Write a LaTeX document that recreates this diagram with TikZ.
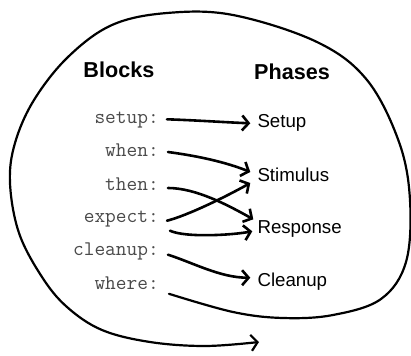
\documentclass[tikz,border=0pt]{standalone}
\usepackage{fontspec}
\setmainfont{Liberation Sans}
\usetikzlibrary{arrows.meta}
\definecolor{codegray}{HTML}{4A4A4A}
\tikzset{
  head/.style={font=\bfseries\fontsize{21.6bp}{24bp}\selectfont, inner sep=0pt, anchor=base west},
  blk/.style={font=\ttfamily\fontsize{20.8bp}{22bp}\selectfont, text=codegray, inner sep=0pt, anchor=base east},
  phase/.style={font=\fontsize{18.7bp}{21bp}\selectfont, inner sep=0pt, anchor=base west},
  conn/.style={line width=2.6bp, line cap=round, -{Straight Barb[length=6.5bp,width=15bp,line width=2.6bp]}},
  loop/.style={line width=2.2bp, line cap=round, -{Straight Barb[length=6.5bp,width=16bp,line width=2.2bp]}}
}
\begin{document}
\begin{tikzpicture}[x=1bp,y=-1bp]
\useasboundingbox (0,0) rectangle (411,356);
\fill[white] (0,0) rectangle (411,356);
\node[head] (blocks) at (83.3,77.5) {Blocks};
\node[head] (phases) at (254,79) {Phases};
\node[blk] (b1) at (159,123.3) {setup:};
\node[blk] (b2) at (159,156) {when:};
\node[blk] (b3) at (159,190) {then:};
\node[blk] (b4) at (159,222.7) {expect:};
\node[blk] (b5) at (159,255.7) {cleanup:};
\node[blk] (b6) at (159,289.3) {where:};
\node[phase] (p1) at (257.3,127.3) {Setup};
\node[phase] (p2) at (257.3,181) {Stimulus};
\node[phase] (p3) at (257.3,233.3) {Response};
\node[phase] (p4) at (257.3,286.7) {Cleanup};
\coordinate (loopend) at (259,342);
\draw[conn] ([shift={(8,-4)}]b1.base east) .. controls +(30,1) and +(-25,-1) .. ([shift={(-7,-4)}]p1.base west);
\draw[conn] ([shift={(9,-4)}]b2.base east) .. controls +(30,4) and +(-25,-10) .. ([shift={(-7,-9)}]p2.base west);
\draw[conn] ([shift={(9,-2)}]b3.base east) .. controls +(28,0) and +(-25,-14) .. ([shift={(-4,-14)}]p3.base west);
\draw[conn] ([shift={(8,-2)}]b4.base east) .. controls +(20,-5) and +(-25,14) .. ([shift={(-7,2)}]p2.base west);
\draw[conn] ([shift={(11,8)}]b4.base east) .. controls +(15,7) and +(-22,4) .. ([shift={(-5,-2)}]p3.base west);
\draw[conn] ([shift={(9,-1)}]b5.base east) .. controls +(25,8) and +(-30,0) .. ([shift={(-7,-9)}]p4.base west);
\draw[loop] plot[smooth, tension=0.6] coordinates {([shift={(10,4.5)}]b6.base east) (233,312) (283,318) (333,315) (381,299) (406,262) (410,200) (399,142) (367,80) (317,42) (233,15) (167,13) (112,25) (68,57) (34,100) (15,143) (10,183) (19,233) (42,277) (67,307) (102,330) (150,342) (205,346) (loopend)};
\end{tikzpicture}
\end{document}
